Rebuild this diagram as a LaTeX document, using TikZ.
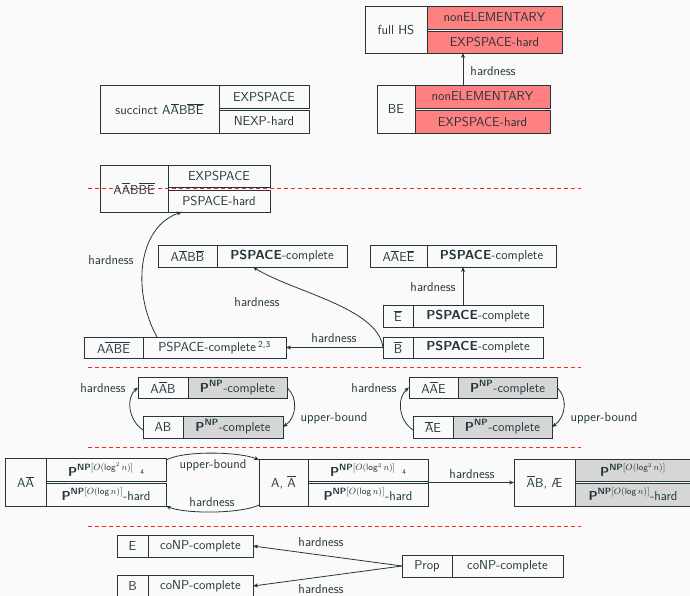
\documentclass[tikz,border=0pt]{standalone}
\usepackage{amsmath}
\usetikzlibrary{arrows.meta}
\renewcommand{\familydefault}{\sfdefault}
\definecolor{fg}{HTML}{23373B}
\definecolor{bg}{HTML}{FAFAFA}
\definecolor{redc}{HTML}{FF8080}
\definecolor{grayc}{HTML}{D6D6D6}
\newcommand{\olin}[1]{\ensuremath{\overline{\mbox{#1}}}}
\newcommand{\PNPsq}{$\textbf{P}^{\textbf{NP}[O(\text{log}^2\, n)]}$}
\newcommand{\PNPl}{$\textbf{P}^{\textbf{NP}[O(\text{log}\, n)]}$}
\newcommand{\PNPc}{$\textbf{P}^{\textbf{NP}}$-complete}
\begin{document}
\begin{tikzpicture}[x=1pt,y=-1pt,
 cell/.style={draw=fg,line width=0.8pt,inner sep=0pt,outer sep=0pt,text=fg,font=\fontsize{13}{15}\selectfont,anchor=north west},
 redcell/.style={cell,fill=redc},
 graycell/.style={cell,fill=grayc},
 lbl/.style={text=fg,font=\fontsize{13}{15}\selectfont,inner sep=0pt},
 arr/.style={draw=fg,line width=0.8pt,-{Stealth[length=5pt,width=4pt]}},
 sepline/.style={draw=red!85!white,line width=0.8pt,dash pattern=on 4pt off 3pt}]
\clip (0,0) rectangle (690,596);
\fill[bg] (0,0) rectangle (690,596);

% separators
\draw[sepline] (88,188) -- (581,188);
\draw[sepline] (88,367) -- (581,367);
\draw[sepline] (88,447) -- (581,447);
\draw[sepline] (88,526) -- (581,526);

% full HS
\node[cell,minimum width=62pt,minimum height=47pt] (fhsL) at (365,6) {full HS};
\node[redcell,minimum width=135pt,minimum height=23pt] (fhsU) at (427,6) {nonELEMENTARY};
\node[redcell,minimum width=135pt,minimum height=22pt] (fhsD) at (427,31) {EXPSPACE-hard};
% BE
\node[cell,minimum width=38pt,minimum height=48pt] (beL) at (377,85) {BE};
\node[redcell,minimum width=135pt,minimum height=23pt] (beU) at (415,85) {nonELEMENTARY};
\node[redcell,minimum width=135pt,minimum height=23pt] (beD) at (415,110) {EXPSPACE-hard};
% succinct
\node[cell,minimum width=119pt,minimum height=48pt] (sucL) at (100,85) {succinct A\olin{A}B\olin{B}\olin{E}};
\node[cell,minimum width=90pt,minimum height=23pt] (sucU) at (219,85) {EXPSPACE};
\node[cell,minimum width=90pt,minimum height=23pt] (sucD) at (219,110) {NEXP-hard};
% AAbBbBbE
\node[cell,minimum width=68pt,minimum height=47pt] (abL) at (100,165) {A\olin{A}B\olin{B}\olin{E}};
\node[cell,minimum width=102pt,minimum height=22pt] (abU) at (168,165) {EXPSPACE};
\node[cell,minimum width=102pt,minimum height=22pt] (abD) at (168,190) {PSPACE-hard};
% AAbBBb
\node[cell,minimum width=59pt,minimum height=22pt] (aabbL) at (158,245) {A\olin{A}B\olin{B}};
\node[cell,minimum width=130pt,minimum height=22pt] (aabbR) at (217,245) {\textbf{PSPACE}-complete};
% AAbEEb
\node[cell,minimum width=57pt,minimum height=22pt] (aaeeL) at (370,245) {A\olin{A}E\olin{E}};
\node[cell,minimum width=129pt,minimum height=22pt] (aaeeR) at (427,245) {\textbf{PSPACE}-complete};
% Eb
\node[cell,minimum width=30pt,minimum height=22pt] (ebL) at (383,305) {\olin{E}};
\node[cell,minimum width=130pt,minimum height=22pt] (ebR) at (413,305) {\textbf{PSPACE}-complete};
% Bb
\node[cell,minimum width=30pt,minimum height=21pt] (bbL) at (383,337) {\olin{B}};
\node[cell,minimum width=130pt,minimum height=21pt] (bbR) at (413,337) {\textbf{PSPACE}-complete};
% AAbBbEb
\node[cell,minimum width=59pt,minimum height=21pt] (aabeL) at (84,337) {A\olin{A}\olin{B}\olin{E}};
\node[cell,minimum width=143pt,minimum height=21pt] (aabeR) at (143,337) {PSPACE-complete\,\textsuperscript{2,3}};
% PNP row
\node[cell,minimum width=50pt,minimum height=21pt] (aabL) at (138,377) {A\olin{A}B};
\node[graycell,minimum width=99pt,minimum height=21pt] (aabR) at (188,377) {\PNPc};
\node[cell,minimum width=40pt,minimum height=22pt] (abxL) at (143,416) {AB};
\node[graycell,minimum width=100pt,minimum height=22pt] (abxR) at (183,416) {\PNPc};
\node[cell,minimum width=49pt,minimum height=21pt] (aaeL) at (409,377) {A\olin{A}E};
\node[graycell,minimum width=99pt,minimum height=21pt] (aaeR) at (458,377) {\PNPc};
\node[cell,minimum width=40pt,minimum height=22pt] (aexL) at (413,416) {\olin{A}E};
\node[graycell,minimum width=99pt,minimum height=22pt] (aexR) at (453,416) {\PNPc};
% log rows
\node[cell,minimum width=41pt,minimum height=48pt] (aaL) at (5,458) {A\olin{A}};
\node[cell,minimum width=120pt,minimum height=23pt] (aaU) at (46,458) {\PNPsq\enspace\raisebox{2pt}{\scriptsize 4}};
\node[cell,minimum width=120pt,minimum height=23pt] (aaD) at (46,483) {\PNPl-hard};
\node[cell,minimum width=49pt,minimum height=47pt] (axL) at (259,459) {A, \olin{A}};
\node[cell,minimum width=120pt,minimum height=22pt] (axU) at (308,459) {\PNPsq\enspace\raisebox{2pt}{\scriptsize 4}};
\node[cell,minimum width=120pt,minimum height=23pt] (axD) at (308,483) {\PNPl-hard};
\node[cell,minimum width=61pt,minimum height=47pt] (abeL) at (514,459) {\olin{A}B, Æ};
\node[graycell,minimum width=116pt,minimum height=22pt] (abeU) at (575,459) {\PNPsq};
\node[graycell,minimum width=116pt,minimum height=23pt] (abeD) at (575,483) {\PNPl-hard};
% coNP
\node[cell,minimum width=31pt,minimum height=22pt] (eL) at (117,535) {E};
\node[cell,minimum width=105pt,minimum height=22pt] (eR) at (148,535) {coNP-complete};
\node[cell,minimum width=31pt,minimum height=22pt] (bL) at (117,575) {B};
\node[cell,minimum width=105pt,minimum height=22pt] (bR) at (148,575) {coNP-complete};
\node[cell,minimum width=50pt,minimum height=22pt] (pL) at (402,555) {Prop};
\node[cell,minimum width=111pt,minimum height=22pt] (pR) at (452,555) {coNP-complete};

% connectors
\draw[arr] ([xshift=48pt]beU.north west) -- ([xshift=36pt]fhsD.south west);
\node[lbl] (l1) at (493,71) {hardness};

\draw[arr] ([xshift=14pt]aabeR.north west) .. controls +(-25,-45) and +(-45,15) .. ([xshift=14pt]abD.south west);
\node[lbl] (l2) at (111,260) {hardness};

\draw[arr] (bbL.west) -- (aabeR.east);
\node[lbl] (l3) at (334,338) {hardness};

\draw[arr] (bbL.west) .. controls +(-5,-40) and +(40,25) .. ([xshift=36pt]aabbR.south west);
\node[lbl] (l4) at (257,302) {hardness};

\draw[arr] ([xshift=50pt]ebR.north west) -- ([xshift=36pt]aaeeR.south west);
\node[lbl] (l5) at (433,287) {hardness};

\draw[arr] ([yshift=-3pt]abxL.west) .. controls +(-15,-10) and +(-12,10) .. (aabL.west);
\node[lbl] (l6) at (103,388) {hardness};
\draw[arr] (aabR.east) .. controls +(11,10) and +(14,-10) .. (abxR.east);
\node[lbl] (l7) at (334,418) {upper-bound};

\draw[arr] ([yshift=-3pt]aexL.west) .. controls +(-15,-10) and +(-12,10) .. (aaeL.west);
\node[lbl] (l8) at (374,388) {hardness};
\draw[arr] (aaeR.east) .. controls +(11,10) and +(14,-10) .. (aexR.east);
\node[lbl] (l9) at (604,418) {upper-bound};

\draw[arr] ([yshift=-2pt]aaU.north east) .. controls +(19,-10) and +(-18,-8) .. ([yshift=-1pt]axL.north west);
\node[lbl] (l10) at (213,465) {upper-bound};
\draw[arr] ([yshift=1pt]axL.south west) .. controls +(-19,9) and +(19,8) .. (aaD.south east);
\node[lbl] (l11) at (212,502) {hardness};

\draw[arr] ([yshift=-1.5pt]axU.south east) -- (abeL.west);
\node[lbl] (l12) at (472,474) {hardness};

\draw[arr] (pL.west) -- (eR.east);
\node[lbl] (l13) at (321,542) {hardness};
\draw[arr] (pL.west) -- (bR.east);
\node[lbl] (l14) at (321,589) {hardness};
\end{tikzpicture}
\end{document}
